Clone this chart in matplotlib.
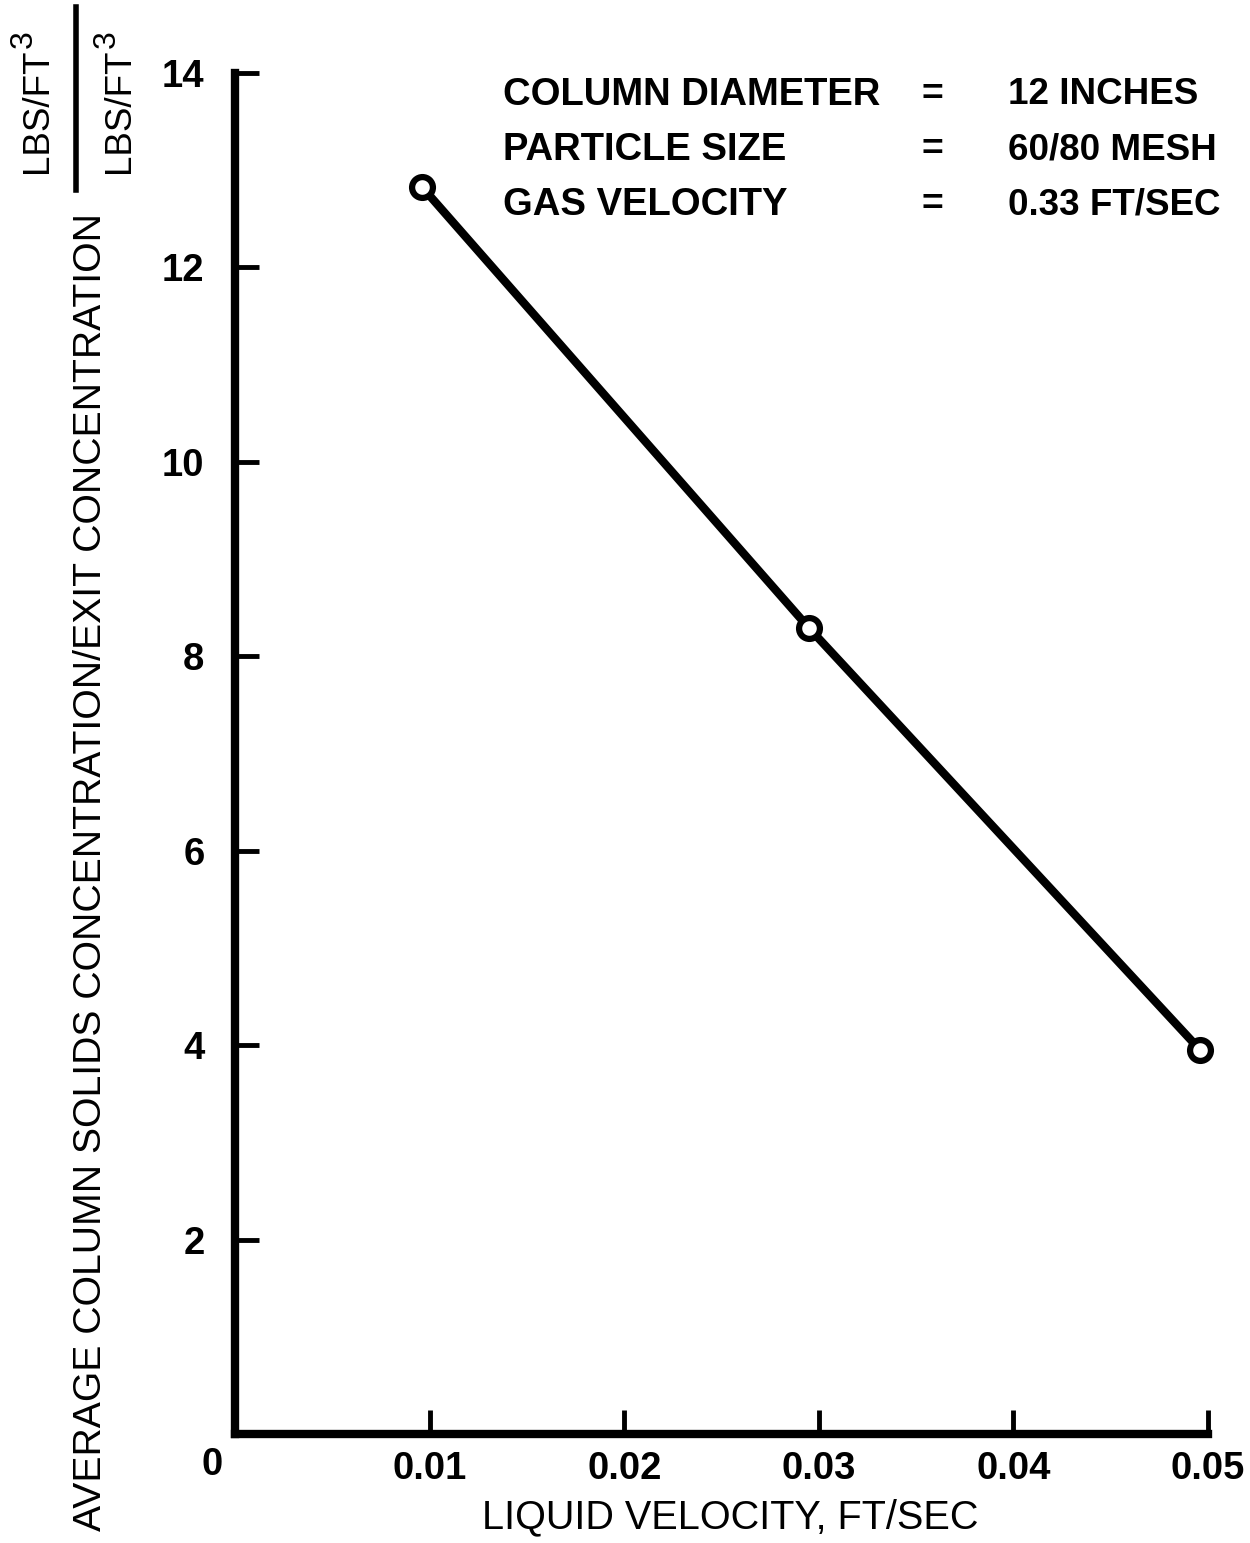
import matplotlib
matplotlib.use("Agg")
import matplotlib.pyplot as plt
from matplotlib.lines import Line2D

plt.rcParams['font.family'] = ['Liberation Sans', 'DejaVu Sans']

# Measured points
liquid_velocity = [0.0096, 0.0295, 0.0496]
conc_ratio = [12.83, 8.29, 3.95]

x_ticks = [0.01, 0.02, 0.03, 0.04, 0.05]
x_tick_labels = ['0.01', '0.02', '0.03', '0.04', '0.05']
y_ticks = [2, 4, 6, 8, 10, 12, 14]

conditions = ['COLUMN DIAMETER', 'PARTICLE SIZE', 'GAS VELOCITY']
condition_values = ['12 INCHES', '60/80 MESH', '0.33 FT/SEC']

W, H = 1250, 1543
fig = plt.figure(figsize=(W / 100, H / 100), dpi=100)
ax = fig.add_axes([235 / W, 1 - 1434 / H, (1208 - 235) / W, (1434 - 73) / H])

ax.plot(liquid_velocity, conc_ratio, color='black', lw=6, marker='o', ms=15,
        mfc='white', mec='black', mew=4.5, solid_capstyle='round', zorder=3,
        clip_on=False)

ax.set_xlim(0, 0.05)
ax.set_ylim(0, 14)
for side in ['top', 'right']:
    ax.spines[side].set_visible(False)
for side in ['left', 'bottom']:
    ax.spines[side].set_linewidth(6)
    ax.spines[side].set_capstyle('projecting')

ax.set_xticks(x_ticks)
ax.set_xticklabels(x_tick_labels)
ax.set_yticks(y_ticks)
ax.tick_params(axis='both', direction='in', length=17, width=3.5,
               labelsize=27.5)
ax.tick_params(axis='x', pad=12)
ax.tick_params(axis='y', pad=22)
for lab in ax.get_xticklabels() + ax.get_yticklabels():
    lab.set_fontweight('bold')

# origin label sits left of the corner
fig.text(212 / W, 1 - 1465 / H, '0', fontsize=27.5, fontweight='bold',
         ha='center', va='center')

fig.text(730 / W, 1 - 1517 / H, 'LIQUID VELOCITY, FT/SEC', fontsize=28.5,
         ha='center', va='center')

# y-axis title with units fraction above it
fig.text(91 / W, 1 - 872 / H,
         'AVERAGE COLUMN SOLIDS CONCENTRATION/EXIT CONCENTRATION',
         rotation=90, fontsize=28.2, ha='center', va='center')
for xc in [37, 120]:
    fig.text(xc / W, 1 - 173 / H, 'LBS/FT', rotation=90, fontsize=26.5,
             ha='center', va='bottom')
    fig.text((xc - 13) / W, 1 - 48 / H, '3', rotation=90, fontsize=23,
             ha='center', va='bottom')
fig.add_artist(Line2D([76 / W, 76 / W], [1 - 7 / H, 1 - 190 / H],
                      transform=fig.transFigure, color='black', lw=4))

# operating conditions
row_y = [95, 150, 205]
for name, val, y in zip(conditions, condition_values, row_y):
    fig.text(503 / W, 1 - y / H, name, fontsize=27.5, fontweight='bold',
             ha='left', va='center')
    fig.text(932 / W, 1 - y / H, '=', fontsize=27, fontweight='bold',
             ha='center', va='center')
    fig.text(1008 / W, 1 - y / H, val, fontsize=26.5, fontweight='bold',
             ha='left', va='center')

fig.savefig('out.png', dpi=100, facecolor='white')
